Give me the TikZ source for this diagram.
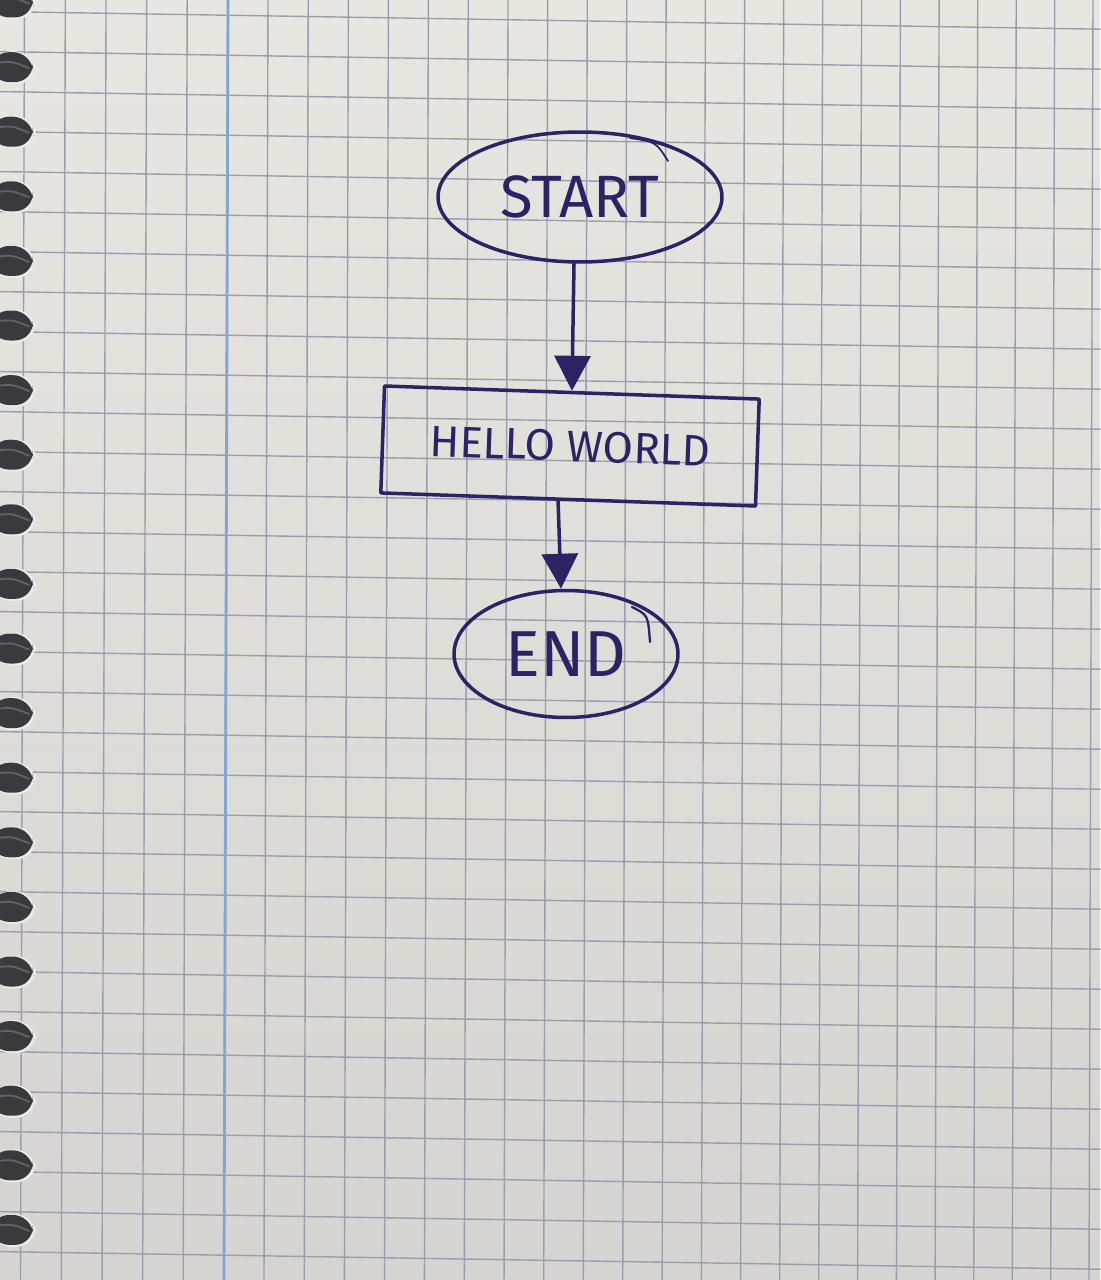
\documentclass[tikz,border=0pt]{standalone}
\usepackage{fontspec}
\setmainfont{Fira Sans}
\usetikzlibrary{shapes.geometric,arrows.meta}
\definecolor{paper}{RGB}{232,230,225}
\definecolor{paperdark}{RGB}{214,212,208}
\definecolor{gridblue}{RGB}{152,158,172}
\definecolor{marginblue}{RGB}{130,165,210}
\definecolor{ink}{RGB}{42,36,100}
\definecolor{ringgrey}{RGB}{58,58,62}
\begin{document}
\begin{tikzpicture}[x=0.02cm,y=-0.02cm,line join=round,line cap=round,>={Triangle[length=0.7cm,width=0.72cm]},
	gridline/.style={gridblue,line width=0.8pt},
	terminal/.style={ellipse,draw=ink,line width=2pt,text=ink,inner sep=0pt},
	process/.style={rectangle,draw=ink,line width=2pt,text=ink,inner sep=0pt},
	flow/.style={->,ink,line width=2pt}]
		\useasboundingbox (0,0) rectangle (1100,1280);
		\shade[top color=paper,bottom color=paperdark] (0,0) rectangle (1100,1280);
		\foreach \k in {0,...,27}
		\draw[gridline] ({24.5+40.87*\k-0.048*\k*\k},0)--({20.5+40.87*\k-0.048*\k*\k},1280);
		\foreach \k in {-1,...,32}
		\draw[gridline] (0,{11.6+40*\k})--(1100,{29.2+40*\k});
		\draw[marginblue,line width=1.6pt] (228,0)--(224,1280);
		\foreach \k in {0,...,19}{
		\fill[white!85!gray,rounded corners=12] (-10,{2.5+64.6*\k-16})--(35,{2.5+64.6*\k-16})--(37,{2.5+64.6*\k+17})--(-10,{2.5+64.6*\k+17})--cycle;
		\fill[ringgrey,rounded corners=11] (-10,{2.5+64.6*\k-15})--(32,{2.5+64.6*\k-15})--(34,{2.5+64.6*\k+15})--(-10,{2.5+64.6*\k+15})--cycle;
		\draw[gray!60!ringgrey,line width=1pt] (-5,{2.5+64.6*\k-4})..controls (12,{2.5+64.6*\k-6})..(29,{2.5+64.6*\k+1});
		}
		\node[terminal,minimum width=5.68cm,minimum height=2.6cm,font=\fontsize{34}{40}\selectfont] (start) at (580,197) {START};
		\node[process,minimum width=7.5cm,minimum height=2.14cm,rotate=-2,font=\fontsize{25}{30}\selectfont] (hello) at (570,446) {HELLO WORLD};
		\node[terminal,minimum width=4.48cm,minimum height=2.54cm,font=\fontsize{37}{44}\selectfont] (finish) at (566,654) {END};
		\draw[flow] ([xshift=-0.12cm]start.south)--(hello.north);
		\draw[flow] ([xshift=-0.2cm]hello.south)--([xshift=-0.1cm]finish.north);
		\draw[ink,line width=1pt] (630,138)..controls (656,142)..(668,161);
		\draw[ink,line width=1.3pt] (632,607)..controls (648,615)..(650,642);
		\end{tikzpicture}
\end{document}
